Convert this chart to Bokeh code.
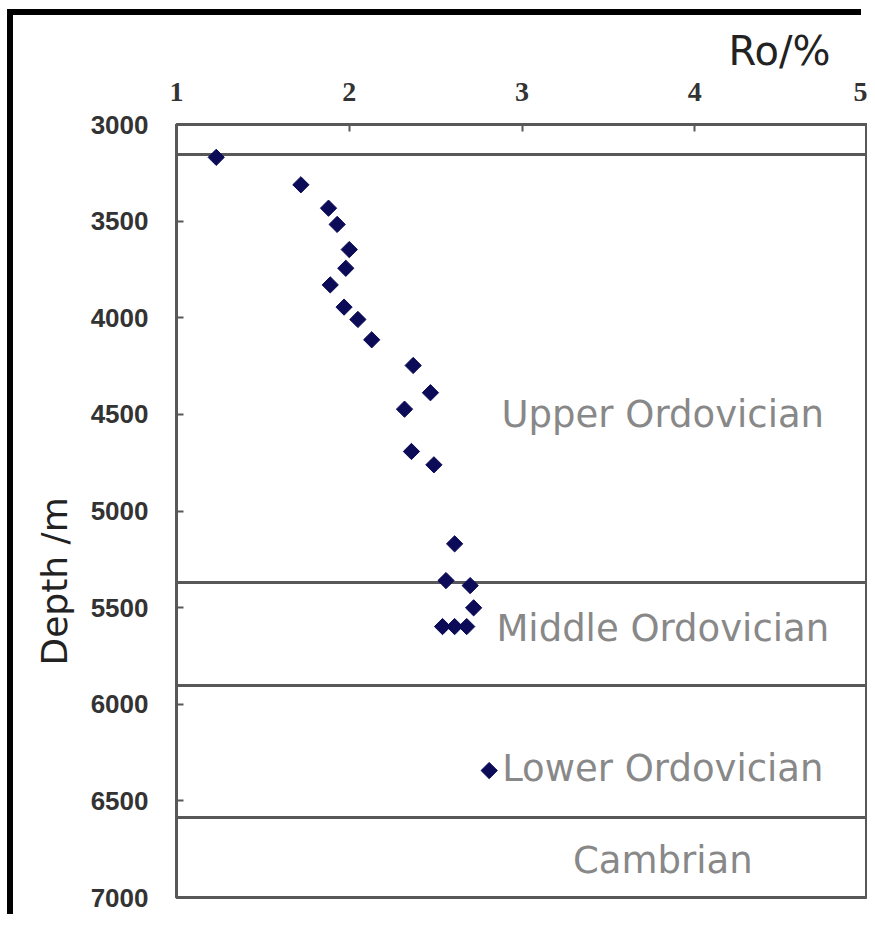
import math
from bokeh.plotting import figure
from bokeh.models import Range1d, FixedTicker, Label, Title, ColumnDataSource
from bokeh.embed import file_html
from bokeh.resources import INLINE

# ---- data ----
ro = [1.23, 1.72, 1.88, 1.93, 2.00, 1.98, 1.89, 1.97, 2.05, 2.13, 2.37, 2.47,
      2.32, 2.36, 2.49, 2.61, 2.56, 2.70, 2.72, 2.54, 2.61, 2.68, 2.81]
depth = [3170, 3312, 3433, 3517, 3647, 3744, 3830, 3945, 4009, 4114, 4247, 4388,
         4473, 4692, 4761, 5170, 5360, 5386, 5501, 5598, 5598, 5598, 6343]
boundaries = [3155, 5370, 5903, 6586]
unit_names = ["Upper Ordovician", "Middle Ordovician", "Lower Ordovician", "Cambrian"]
unit_label_depth = [4500, 5608, 6333, 6808]
unit_label_ro = 3.815
x_ticks = [1, 2, 3, 4, 5]
y_ticks = [3000, 3500, 4000, 4500, 5000, 5500, 6000, 6500, 7000]

GRAY = "#585858"

p = figure(width=854, height=905,
           x_range=Range1d(1, 5), y_range=Range1d(7000, 3000),
           x_axis_location="above",
           output_backend="svg", toolbar_location=None,
           min_border_left=163, min_border_top=109,
           min_border_right=0, min_border_bottom=23)
p.margin = (15, 0, 0, 13)
p.styles = {"box-shadow": "-6px -6px 0px 0px #000000"}

p.xgrid.grid_line_color = None
p.ygrid.grid_line_color = None
p.outline_line_color = GRAY
p.outline_line_width = 3
p.outline_line_alpha = 1.0

for ax in (p.xaxis[0], p.yaxis[0]):
    ax.axis_line_color = GRAY
    ax.axis_line_width = 3
    ax.major_tick_line_color = GRAY
    ax.major_tick_line_width = 2
    ax.major_tick_in = 7
    ax.major_tick_out = 0
    ax.minor_tick_line_color = None
    ax.major_label_text_color = "#333333"

p.xaxis.ticker = FixedTicker(ticks=x_ticks)
p.xaxis.major_label_text_font = "Liberation Serif"
p.xaxis.major_label_text_font_style = "bold"
p.xaxis.major_label_text_font_size = "28px"
p.xaxis.major_label_standoff = 24

p.yaxis.ticker = FixedTicker(ticks=y_ticks)
p.yaxis.major_label_text_font = "Liberation Sans"
p.yaxis.major_label_text_font_style = "bold"
p.yaxis.major_label_text_font_size = "26px"
p.yaxis.major_label_standoff = 28

# stratigraphic boundaries
p.hspan(y=boundaries, line_color=GRAY, line_width=3)

# data points (diamonds)
src = ColumnDataSource(dict(ro=ro, depth=depth))
p.scatter("ro", "depth", source=src, marker="square", size=11.5, angle=math.pi / 4,
          fill_color="#0b0b58", line_color="#0b0b58")

# unit names
for name, d in zip(unit_names, unit_label_depth):
    p.add_layout(Label(x=unit_label_ro, y=d, text=name, text_align="center",
                       text_baseline="middle", text_font="DejaVu Sans",
                       text_font_size="37px", text_color="#888888"))

# axis titles
p.add_layout(Title(text="Ro/%", align="left", offset=552, standoff=12,
                   text_font="DejaVu Sans", text_font_style="normal",
                   text_font_size="40px", text_color="#222222"), "above")
p.add_layout(Title(text="Depth /m", align="left", offset=232, standoff=26,
                   text_font="DejaVu Sans", text_font_style="normal",
                   text_font_size="36px", text_color="#222222"), "left")

open("out.html", "w").write(file_html(p, INLINE))
